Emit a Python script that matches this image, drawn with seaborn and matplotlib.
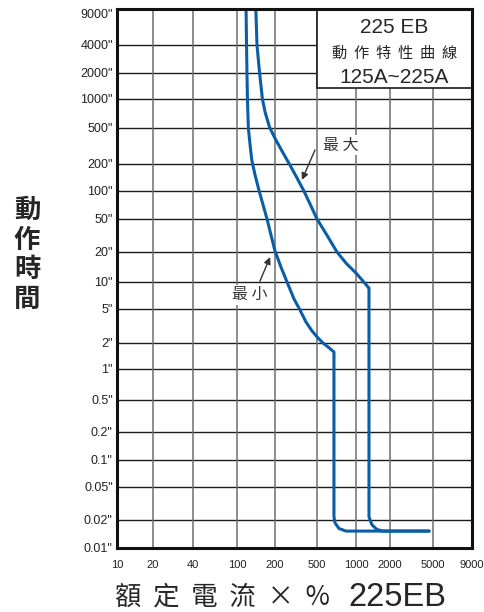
import numpy as np
import matplotlib
matplotlib.use('Agg')
import matplotlib.pyplot as plt
import seaborn as sns
from matplotlib.patches import Rectangle

# Значения шкал
x_ticks = [10, 20, 40, 100, 200, 500, 1000, 2000, 5000, 9000]
x_tick_labels = ['10', '20', '40', '100', '200', '500', '1000', '2000', '5000', '9000']
y_ticks = [0.01, 0.02, 0.05, 0.1, 0.2, 0.5, 1, 2, 5, 10, 20, 50, 100, 200, 500,
           1000, 2000, 4000, 9000]
y_tick_labels = ['0.01"', '0.02"', '0.05"', '0.1"', '0.2"', '0.5"', '1"', '2"', '5"',
                 '10"', '20"', '50"', '100"', '200"', '500"', '1000"', '2000"',
                 '4000"', '9000"']

# Кривая "最小"
min_current = [118, 119, 120, 121, 123, 127, 131, 139, 149, 161, 173, 186, 200, 228,
               260, 303, 345, 393, 448, 509, 556, 608, 676, 676, 689, 739, 837, 4600]
min_time = [10000, 4000, 2000, 1000, 500, 324, 221, 151, 103, 70.7, 50, 32, 20.6,
            14.1, 10, 6.46, 4.87, 3.53, 2.77, 2.29, 2, 1.80, 1.574, 0.0218, 0.0186,
            0.0162, 0.0152, 0.0152]

# Кривая "最大"
max_current = [141, 144, 151, 159, 167, 181, 204, 236, 277, 323, 376, 434, 500, 602,
               713, 844, 1000, 1130, 1277, 1303, 1303, 1386, 1534, 1734, 4600]
max_time = [10000, 4000, 2000, 1000, 730, 510, 368, 271, 195, 140, 100, 70.7, 50,
            31.2, 20, 15.3, 12.3, 10.5, 8.8, 8.6, 0.0218, 0.0177, 0.0158, 0.0152,
            0.0152]

# Неравномерные шкалы (как на исходной сетке)
x_knots = np.log10(x_ticks)
x_pos = [0, 36, 76, 120, 158, 200, 239, 273, 316, 355]
y_knots = np.log10([0.01, 0.02, 0.05, 0.1, 0.2, 0.5, 1, 2, 5, 10, 20, 50, 100, 200,
                    500, 1000, 2000, 4000, 10000])
y_pos = [0, 28, 61, 88, 116, 148, 179, 205, 239, 266, 296, 329, 357, 384, 420, 449,
         475, 503, 539]


def make_scale(knots, pos):
    def fwd(v):
        lv = np.log10(np.clip(v, 1e-9, None))
        return np.interp(lv, knots, pos)

    def inv(p):
        return 10 ** np.interp(p, pos, knots)
    return fwd, inv


sns.set_style("white")
plt.rcParams['font.family'] = ['Noto Sans CJK TC', 'DejaVu Sans']

fig = plt.figure(figsize=(4.84, 6.12), dpi=100)
ax = fig.add_axes([0.2417, 0.1046, 0.7335, 0.8807])

ax.set_xscale('function', functions=make_scale(x_knots, x_pos))
ax.set_yscale('function', functions=make_scale(y_knots, y_pos))
ax.set_xlim(10, 9000)
ax.set_ylim(0.01, 10000)

# Сетка
for v in y_ticks[1:-1]:
    ax.axhline(v, color='#1a1a1a', lw=1.0, zorder=1)
for v in x_ticks[1:-1]:
    ax.axvline(v, color='#6e6e6e', lw=1.1, zorder=1)

blue = '#0a5ea8'
sns.lineplot(x=min_current, y=min_time, sort=False, estimator=None, ax=ax,
             color=blue, lw=2.2, zorder=3)
sns.lineplot(x=max_current, y=max_time, sort=False, estimator=None, ax=ax,
             color=blue, lw=2.2, zorder=3)

# Рамка с заголовком
ax.add_patch(Rectangle((0.563, 0.8534), 0.437, 0.1466, transform=ax.transAxes,
                       facecolor='white', edgecolor='#1a1a1a', lw=1.2, zorder=4))
ax.text(0.7817, 0.9648, '225 EB', transform=ax.transAxes, ha='center', va='center',
        fontsize=15, family=['Liberation Sans', 'DejaVu Sans'], zorder=5)
ax.text(0.7817, 0.9184, '動  作  特  性  曲  線', transform=ax.transAxes, ha='center',
        va='center', fontsize=11, zorder=5)
ax.text(0.7817, 0.8738, '125A~225A', transform=ax.transAxes, ha='center', va='center',
        fontsize=15, family=['Liberation Sans', 'DejaVu Sans'], zorder=5)

# Подписи кривых
arrow = dict(arrowstyle='-|>', color='#333333', lw=1.0, mutation_scale=10,
             shrinkA=0, shrinkB=0)
ax.annotate('', xy=(360, 133), xytext=(479, 286), arrowprops=arrow, zorder=5)
ax.text(766, 324, '最 大', ha='center', va='center', fontsize=11.5, color='#333333',
        zorder=5, bbox=dict(facecolor='white', edgecolor='none', pad=1))
ax.annotate('', xy=(183, 17.8), xytext=(152, 10.2), arrowprops=arrow, zorder=5)
ax.text(127, 7.2, '最 小', ha='center', va='center', fontsize=11.5, color='#333333',
        zorder=5, bbox=dict(facecolor='white', edgecolor='none', pad=1))

ax.set_xticks(x_ticks)
ax.set_xticklabels(x_tick_labels, family=['Liberation Sans Narrow', 'Liberation Sans'],
                   fontsize=8)
ax.set_yticks(y_ticks)
ax.set_yticklabels(y_tick_labels, family=['Liberation Sans', 'DejaVu Sans'], fontsize=9)
ax.minorticks_off()
ax.tick_params(axis='x', length=0, pad=8.5, colors='#222222')
ax.tick_params(axis='y', length=0, pad=3, colors='#222222')

for s in ax.spines.values():
    s.set_visible(True)
    s.set_color('#111111')
    s.set_linewidth(2.2)
    s.set_zorder(6)

fig.text(0.056, 1 - 255 / 612, '動\n作\n時\n間', ha='center', va='center',
         fontsize=19, fontweight='bold', linespacing=1.12)
fig.text(115 / 484, 1 - 597 / 612, '額  定  電  流  ×  %', ha='left',
         va='center', fontsize=19)
fig.text(348 / 484, 1 - 597 / 612, '225EB', ha='left', va='center', fontsize=23.5,
         family=['Liberation Sans', 'DejaVu Sans'])

fig.savefig('out.png', dpi=100)
